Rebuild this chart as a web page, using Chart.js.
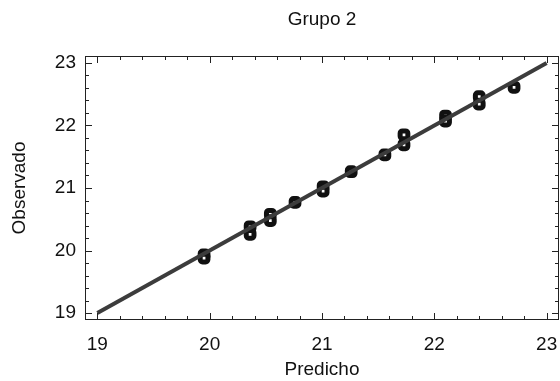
<!DOCTYPE html>
<html>
<head>
<meta charset="utf-8">
<script src="https://cdn.jsdelivr.net/npm/chart.js@4"></script>
<style>
  html, body { margin: 0; padding: 0; background: #fff; }
  #wrap { width: 560px; height: 381px; }
</style>
</head>
<body>
<div id="wrap"><canvas id="chart"></canvas></div>
<script>
const predicho  = [19.95, 19.95, 20.36, 20.36, 20.54, 20.54, 20.76, 21.01, 21.01, 21.26, 21.56, 21.73, 21.73, 22.10, 22.10, 22.40, 22.40, 22.71];
const observado = [19.93, 19.88, 20.38, 20.26, 20.58, 20.48, 20.77, 21.02, 20.95, 21.26, 21.53, 21.85, 21.69, 22.15, 22.07, 22.46, 22.34, 22.61];

// reference line y = x
const lineX = [19, 23];
const lineY = [19, 23];

const tickValues = [19, 20, 21, 22, 23];
const minorStep = 0.2;
const chartTitle = 'Grupo 2';

const points = predicho.map((x, i) => ({ x: x, y: observado[i] }));
const linePts = lineX.map((x, i) => ({ x: x, y: lineY[i] }));

function buildTicks(scale) {
  const t = [];
  for (let v = tickValues[0]; v <= tickValues[tickValues.length - 1] + 1e-9; v += minorStep) {
    t.push({ value: Math.round(v * 10) / 10 });
  }
  scale.ticks = t;
}

function isMajor(v) {
  return tickValues.some(m => Math.abs(m - v) < 1e-6);
}

// frame, inward ticks on all four sides, and the title centred over the plot
const framePlugin = {
  id: 'frame',
  afterDraw(chart) {
    const { ctx, chartArea: a, scales } = chart;
    ctx.save();
    ctx.strokeStyle = '#222';
    ctx.lineWidth = 1;
    ctx.strokeRect(a.left + 0.5, a.top + 0.5, a.right - a.left - 1, a.bottom - a.top - 1);
    ctx.beginPath();
    scales.x.ticks.forEach(t => {
      const px = Math.round(scales.x.getPixelForValue(t.value)) + 0.5;
      const len = isMajor(t.value) ? 7 : 4;
      ctx.moveTo(px, a.bottom); ctx.lineTo(px, a.bottom - len);
      ctx.moveTo(px, a.top); ctx.lineTo(px, a.top + len);
    });
    scales.y.ticks.forEach(t => {
      const py = Math.round(scales.y.getPixelForValue(t.value)) + 0.5;
      const len = isMajor(t.value) ? 7 : 4;
      ctx.moveTo(a.left, py); ctx.lineTo(a.left + len, py);
      ctx.moveTo(a.right, py); ctx.lineTo(a.right - len, py);
    });
    ctx.stroke();

    ctx.fillStyle = '#111';
    ctx.font = '19px "Liberation Sans", Arial, sans-serif';
    ctx.textAlign = 'center';
    ctx.textBaseline = 'middle';
    ctx.fillText(chartTitle, (a.left + a.right) / 2, 20);
    ctx.restore();
  }
};

Chart.defaults.font.family = '"Liberation Sans", Arial, sans-serif';
Chart.defaults.color = '#111';

new Chart(document.getElementById('chart'), {
  type: 'scatter',
  data: {
    datasets: [
      {
        type: 'line',
        data: linePts,
        borderColor: '#3c3c3c',
        borderWidth: 4,
        pointRadius: 0,
        order: 0
      },
      {
        data: points,
        pointStyle: 'rectRounded',
        pointRadius: 4.5,
        pointBorderWidth: 5,
        pointBorderColor: '#111',
        pointBackgroundColor: '#fff',
        order: 1
      }
    ]
  },
  options: {
    responsive: true,
    maintainAspectRatio: false,
    animation: false,
    layout: { autoPadding: false, padding: { right: 1, left: 0, top: 56, bottom: 0 } },
    plugins: {
      legend: { display: false },
      tooltip: { enabled: false },
      title: { display: false }
    },
    scales: {
      x: {
        type: 'linear',
        min: 18.89,
        max: 23.11,
        afterBuildTicks: buildTicks,
        afterFit: s => { s.height = 61; s.paddingLeft = 0; s.paddingRight = 0; },
        grid: { display: false, drawTicks: false },
        border: { display: false },
        ticks: {
          autoSkip: false,
          maxRotation: 0,
          padding: 13,
          font: { size: 19 },
          callback: v => isMajor(v) ? String(Math.round(v)) : ''
        },
        title: {
          display: true,
          text: 'Predicho',
          font: { size: 19 },
          padding: { top: 5, bottom: 0 }
        }
      },
      y: {
        type: 'linear',
        min: 18.89,
        max: 23.11,
        afterBuildTicks: buildTicks,
        afterFit: s => { s.width = 85; s.paddingTop = 0; s.paddingBottom = 0; },
        grid: { display: false, drawTicks: false },
        border: { display: false },
        ticks: {
          autoSkip: false,
          padding: 9,
          font: { size: 19 },
          callback: v => isMajor(v) ? String(Math.round(v)) : ''
        },
        title: {
          display: true,
          text: 'Observado',
          font: { size: 19 },
          padding: { top: 8, bottom: 6 }
        }
      }
    }
  },
  plugins: [framePlugin]
});
</script>
</body>
</html>
